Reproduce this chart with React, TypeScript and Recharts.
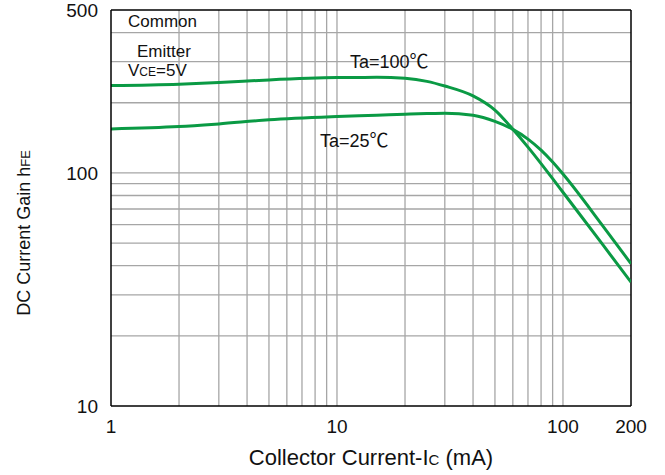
import React from 'react';
import { LineChart, Line, XAxis, YAxis, ReferenceLine } from 'recharts';

const currentMA = [1, 2, 3, 5, 10, 15, 20, 25, 30, 40, 50, 60, 70, 80, 90, 100, 150, 200];
const gain100C = [237, 240.3, 244.2, 250.7, 256.4, 257, 254.5, 247.1, 236, 214, 186, 154, 129, 109.6, 94.5, 82.6, 49.2, 34];
const gain25C = [154.5, 158, 162.3, 168.9, 174.4, 176.8, 178.6, 179.8, 180.4, 176.6, 166.3, 153.7, 139.7, 125.2, 111.3, 98.9, 59.3, 40.8];

const xTicks = [1, 10, 100, 200];
const yTicks = [10, 100, 500];
const xGrid = [2, 3, 4, 5, 6, 7, 8, 9, 10, 20, 30, 40, 50, 60, 70, 80, 90, 100];
const yGrid = [20, 30, 40, 50, 60, 70, 80, 90, 100, 200, 300, 400];

const data = currentMA.map((x, i) => ({ x, t100: gain100C[i], t25: gain25C[i] }));

const FONT = '"Liberation Sans", Arial, "Noto Sans CJK SC", sans-serif';
const CJK = '"Noto Sans CJK SC", sans-serif';
const GREEN = '#0a9a44';
const GRID = '#a6a6a6';

export default function App() {
  return (
    <div style={{ position: 'absolute', left: 0, top: 0, width: 665, height: 475, background: '#fff' }}>
      <LineChart
        width={665}
        height={475}
        data={data}
        margin={{ top: 10, right: 34, bottom: 9, left: 51 }}
      >
        <XAxis
          dataKey="x"
          type="number"
          scale="log"
          domain={[1, 200]}
          ticks={xTicks}
          allowDataOverflow
          height={60}
          tickLine={false}
          axisLine={{ stroke: '#000', strokeWidth: 1.5 }}
          tickMargin={8}
          tick={{ fontSize: 19, fill: '#111', fontFamily: FONT }}
          interval={0}
        />
        <YAxis
          type="number"
          scale="log"
          domain={[10, 500]}
          ticks={yTicks}
          allowDataOverflow
          width={60}
          tickLine={false}
          axisLine={{ stroke: '#000', strokeWidth: 1.5 }}
          tickMargin={7}
          tick={{ fontSize: 19, fill: '#111', fontFamily: FONT }}
          interval={0}
        />
        {xGrid.map((v) => (
          <ReferenceLine key={'gx' + v} x={v} stroke={GRID} strokeWidth={1.3} ifOverflow="hidden" />
        ))}
        {yGrid.map((v) => (
          <ReferenceLine key={'gy' + v} y={v} stroke={GRID} strokeWidth={1.3} ifOverflow="hidden" />
        ))}
        <ReferenceLine x={200} stroke="#000" strokeWidth={1.5} />
        <ReferenceLine y={500} stroke="#000" strokeWidth={1.5} />
        <Line dataKey="t100" type="monotone" stroke={GREEN} strokeWidth={3} dot={false} isAnimationActive={false} />
        <Line dataKey="t25" type="monotone" stroke={GREEN} strokeWidth={3} dot={false} isAnimationActive={false} />
      </LineChart>
      <svg
        width={665}
        height={475}
        style={{ position: 'absolute', left: 0, top: 0, pointerEvents: 'none' }}
      >
        <g fontFamily={FONT} fill="#111">
          <text x={128} y={27} fontSize={17}>Common</text>
          <text x={137} y={57} fontSize={17}>Emitter</text>
          <text x={128} y={76} fontSize={17}>
            V<tspan fontSize={12}>CE</tspan>=5V
          </text>
          <text x={350} y={68} fontSize={18}>
            Ta=100<tspan fontFamily={CJK} fontSize={19}>℃</tspan>
          </text>
          <text x={320} y={147} fontSize={18}>
            Ta=25<tspan fontFamily={CJK} fontSize={19}>℃</tspan>
          </text>
          <text x={371} y={465} fontSize={22} textAnchor="middle">
            Collector Current-I<tspan fontSize={15}>C</tspan> (mA)
          </text>
          <text x={30} y={233} fontSize={18} textAnchor="middle" transform="rotate(-90 30 233)">
            DC Current Gain h<tspan fontSize={13}>FE</tspan>
          </text>
        </g>
      </svg>
    </div>
  );
}
